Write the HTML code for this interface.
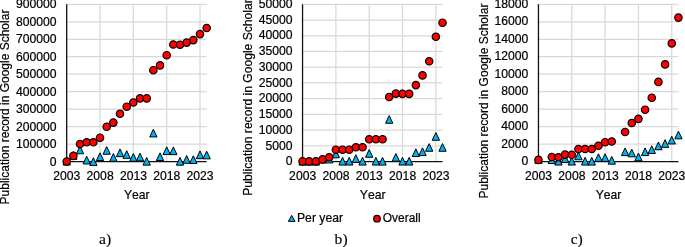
<!DOCTYPE html>
<html><head><meta charset="utf-8"><title>Publication record in Google Scholar</title>
<style>
html,body{margin:0;padding:0;background:#fff}
svg{display:block}
text{font-family:"Liberation Sans",Arial,sans-serif;font-size:12px;fill:#000;stroke:#000;stroke-width:.2px;font-kerning:none}
.cap{font-family:"Liberation Serif","Times New Roman",serif;font-size:15px;stroke-width:.12px}
.g{stroke:#d9d9d9;stroke-width:1.25;fill:none}
.ax{stroke:#111;stroke-width:1.3;fill:none}
.c{fill:#ff0000;stroke:#000;stroke-width:1.2}
.t{fill:#00b0f0;stroke:#000;stroke-width:1;stroke-linejoin:miter}
</style></head><body>
<svg width="685" height="247" viewBox="0 0 685 247">
<rect width="685" height="247" fill="#fff"/>
<g>
<path class="g" d="M66.70 144.12H206.67"/><path class="g" d="M66.70 126.64H206.67"/><path class="g" d="M66.70 109.17H206.67"/><path class="g" d="M66.70 91.69H206.67"/><path class="g" d="M66.70 74.21H206.67"/><path class="g" d="M66.70 56.73H206.67"/><path class="g" d="M66.70 39.26H206.67"/><path class="g" d="M66.70 21.78H206.67"/><path class="g" d="M66.70 4.30H206.67"/><path class="g" d="M100.03 4.30V161.60"/><path class="g" d="M133.35 4.30V161.60"/><path class="g" d="M166.68 4.30V161.60"/><path class="g" d="M200.00 4.30V161.60"/>
<path class="ax" d="M66.70 4.30V161.60"/><path class="ax" d="M66.70 161.60H206.67"/>
<path class="t" d="M66.70 157.35L70.35 165.05L63.05 165.05Z"/><path class="t" d="M73.37 151.65L77.02 159.35L69.72 159.35Z"/><path class="t" d="M80.03 146.05L83.68 153.75L76.38 153.75Z"/><path class="t" d="M86.70 156.25L90.35 163.95L83.05 163.95Z"/><path class="t" d="M93.36 157.75L97.01 165.45L89.71 165.45Z"/><path class="t" d="M100.03 152.85L103.68 160.55L96.38 160.55Z"/><path class="t" d="M106.69 146.55L110.34 154.25L103.04 154.25Z"/><path class="t" d="M113.36 153.55L117.01 161.25L109.70 161.25Z"/><path class="t" d="M120.02 148.95L123.67 156.65L116.37 156.65Z"/><path class="t" d="M126.69 150.65L130.34 158.35L123.03 158.35Z"/><path class="t" d="M133.35 153.55L137.00 161.25L129.70 161.25Z"/><path class="t" d="M140.01 153.15L143.66 160.85L136.36 160.85Z"/><path class="t" d="M146.68 157.45L150.33 165.15L143.03 165.15Z"/><path class="t" d="M153.34 129.25L157.00 136.95L149.69 136.95Z"/><path class="t" d="M160.01 152.85L163.66 160.55L156.36 160.55Z"/><path class="t" d="M166.68 146.85L170.33 154.55L163.03 154.55Z"/><path class="t" d="M173.34 146.95L176.99 154.65L169.69 154.65Z"/><path class="t" d="M180.00 157.45L183.66 165.15L176.35 165.15Z"/><path class="t" d="M186.67 155.55L190.32 163.25L183.02 163.25Z"/><path class="t" d="M193.34 155.75L196.99 163.45L189.69 163.45Z"/><path class="t" d="M200.00 150.95L203.65 158.65L196.35 158.65Z"/><path class="t" d="M206.67 151.15L210.32 158.85L203.02 158.85Z"/>
<circle class="c" cx="66.70" cy="161.50" r="3.70"/><circle class="c" cx="73.37" cy="155.90" r="3.70"/><circle class="c" cx="80.03" cy="144.00" r="3.70"/><circle class="c" cx="86.70" cy="142.30" r="3.70"/><circle class="c" cx="93.36" cy="142.30" r="3.70"/><circle class="c" cx="100.03" cy="137.70" r="3.70"/><circle class="c" cx="106.69" cy="126.70" r="3.70"/><circle class="c" cx="113.36" cy="122.60" r="3.70"/><circle class="c" cx="120.02" cy="113.80" r="3.70"/><circle class="c" cx="126.69" cy="106.70" r="3.70"/><circle class="c" cx="133.35" cy="102.50" r="3.70"/><circle class="c" cx="140.01" cy="98.40" r="3.70"/><circle class="c" cx="146.68" cy="98.40" r="3.70"/><circle class="c" cx="153.34" cy="70.20" r="3.70"/><circle class="c" cx="160.01" cy="65.40" r="3.70"/><circle class="c" cx="166.68" cy="55.20" r="3.70"/><circle class="c" cx="173.34" cy="44.50" r="3.70"/><circle class="c" cx="180.00" cy="44.70" r="3.70"/><circle class="c" cx="186.67" cy="42.60" r="3.70"/><circle class="c" cx="193.34" cy="40.10" r="3.70"/><circle class="c" cx="200.00" cy="34.10" r="3.70"/><circle class="c" cx="206.67" cy="28.00" r="3.70"/>
<text transform="translate(56.50 165.50) scale(1.015 1.000)" text-anchor="end">0</text><text transform="translate(56.50 148.02) scale(1.015 1.000)" text-anchor="end">100000</text><text transform="translate(56.50 130.54) scale(1.015 1.000)" text-anchor="end">200000</text><text transform="translate(56.50 113.07) scale(1.015 1.000)" text-anchor="end">300000</text><text transform="translate(56.50 95.59) scale(1.015 1.000)" text-anchor="end">400000</text><text transform="translate(56.50 78.11) scale(1.015 1.000)" text-anchor="end">500000</text><text transform="translate(56.50 60.63) scale(1.015 1.000)" text-anchor="end">600000</text><text transform="translate(56.50 43.16) scale(1.015 1.000)" text-anchor="end">700000</text><text transform="translate(56.50 25.68) scale(1.015 1.000)" text-anchor="end">800000</text><text transform="translate(56.50 8.20) scale(1.015 1.000)" text-anchor="end">900000</text>
<text transform="translate(66.80 179.80) scale(1.015 1.000)" text-anchor="middle">2003</text><text transform="translate(100.12 179.80) scale(1.015 1.000)" text-anchor="middle">2008</text><text transform="translate(133.45 179.80) scale(1.015 1.000)" text-anchor="middle">2013</text><text transform="translate(166.78 179.80) scale(1.015 1.000)" text-anchor="middle">2018</text><text transform="translate(200.10 179.80) scale(1.015 1.000)" text-anchor="middle">2023</text>
<text transform="translate(136.78 198.70) scale(1.015 1.000)" text-anchor="middle">Year</text>
<text transform="translate(9.40 204.40) rotate(-90) scale(1.0000 1)">Publication record in Google Scholar</text>
<text class="cap" transform="translate(99.10 244.0) scale(1.04 1)">a)</text>
</g>
<g>
<path class="g" d="M302.55 145.87H442.51"/><path class="g" d="M302.55 130.14H442.51"/><path class="g" d="M302.55 114.41H442.51"/><path class="g" d="M302.55 98.68H442.51"/><path class="g" d="M302.55 82.95H442.51"/><path class="g" d="M302.55 67.22H442.51"/><path class="g" d="M302.55 51.49H442.51"/><path class="g" d="M302.55 35.76H442.51"/><path class="g" d="M302.55 20.03H442.51"/><path class="g" d="M302.55 4.30H442.51"/><path class="g" d="M335.88 4.30V161.60"/><path class="g" d="M369.20 4.30V161.60"/><path class="g" d="M402.52 4.30V161.60"/><path class="g" d="M435.85 4.30V161.60"/>
<path class="ax" d="M302.55 4.30V161.60"/><path class="ax" d="M302.55 161.60H442.51"/>
<path class="t" d="M302.55 157.35L306.20 165.05L298.90 165.05Z"/><path class="t" d="M309.22 157.35L312.87 165.05L305.57 165.05Z"/><path class="t" d="M315.88 157.35L319.53 165.05L312.23 165.05Z"/><path class="t" d="M322.55 155.35L326.19 163.05L318.90 163.05Z"/><path class="t" d="M329.21 155.25L332.86 162.95L325.56 162.95Z"/><path class="t" d="M335.88 150.05L339.52 157.75L332.23 157.75Z"/><path class="t" d="M342.54 157.35L346.19 165.05L338.89 165.05Z"/><path class="t" d="M349.21 157.35L352.86 165.05L345.56 165.05Z"/><path class="t" d="M355.87 154.75L359.52 162.45L352.22 162.45Z"/><path class="t" d="M362.54 157.35L366.19 165.05L358.89 165.05Z"/><path class="t" d="M369.20 149.60L372.85 157.30L365.55 157.30Z"/><path class="t" d="M375.87 157.35L379.51 165.05L372.22 165.05Z"/><path class="t" d="M382.53 157.35L386.18 165.05L378.88 165.05Z"/><path class="t" d="M389.19 115.55L392.84 123.25L385.55 123.25Z"/><path class="t" d="M395.86 153.45L399.51 161.15L392.21 161.15Z"/><path class="t" d="M402.52 157.35L406.17 165.05L398.88 165.05Z"/><path class="t" d="M409.19 157.35L412.84 165.05L405.54 165.05Z"/><path class="t" d="M415.86 148.85L419.50 156.55L412.21 156.55Z"/><path class="t" d="M422.52 147.85L426.17 155.55L418.87 155.55Z"/><path class="t" d="M429.19 143.55L432.83 151.25L425.54 151.25Z"/><path class="t" d="M435.85 132.55L439.50 140.25L432.20 140.25Z"/><path class="t" d="M442.51 143.55L446.16 151.25L438.87 151.25Z"/>
<circle class="c" cx="302.55" cy="161.40" r="3.70"/><circle class="c" cx="309.22" cy="161.40" r="3.70"/><circle class="c" cx="315.88" cy="161.40" r="3.70"/><circle class="c" cx="322.55" cy="159.40" r="3.70"/><circle class="c" cx="329.21" cy="157.30" r="3.70"/><circle class="c" cx="335.88" cy="149.70" r="3.70"/><circle class="c" cx="342.54" cy="149.70" r="3.70"/><circle class="c" cx="349.21" cy="149.70" r="3.70"/><circle class="c" cx="355.87" cy="147.30" r="3.70"/><circle class="c" cx="362.54" cy="147.30" r="3.70"/><circle class="c" cx="369.20" cy="139.30" r="3.70"/><circle class="c" cx="375.87" cy="139.30" r="3.70"/><circle class="c" cx="382.53" cy="139.30" r="3.70"/><circle class="c" cx="389.19" cy="97.00" r="3.70"/><circle class="c" cx="395.86" cy="93.60" r="3.70"/><circle class="c" cx="402.52" cy="93.85" r="3.70"/><circle class="c" cx="409.19" cy="93.85" r="3.70"/><circle class="c" cx="415.86" cy="85.10" r="3.70"/><circle class="c" cx="422.52" cy="75.40" r="3.70"/><circle class="c" cx="429.19" cy="61.30" r="3.70"/><circle class="c" cx="435.85" cy="36.80" r="3.70"/><circle class="c" cx="442.51" cy="22.70" r="3.70"/>
<text transform="translate(292.60 165.30) scale(1.015 1.000)" text-anchor="end">0</text><text transform="translate(292.60 149.57) scale(1.015 1.000)" text-anchor="end">5000</text><text transform="translate(292.60 133.84) scale(1.015 1.000)" text-anchor="end">10000</text><text transform="translate(292.60 118.11) scale(1.015 1.000)" text-anchor="end">15000</text><text transform="translate(292.60 102.38) scale(1.015 1.000)" text-anchor="end">20000</text><text transform="translate(292.60 86.65) scale(1.015 1.000)" text-anchor="end">25000</text><text transform="translate(292.60 70.92) scale(1.015 1.000)" text-anchor="end">30000</text><text transform="translate(292.60 55.19) scale(1.015 1.000)" text-anchor="end">35000</text><text transform="translate(292.60 39.46) scale(1.015 1.000)" text-anchor="end">40000</text><text transform="translate(292.60 23.73) scale(1.015 1.000)" text-anchor="end">45000</text><text transform="translate(292.60 8.00) scale(1.015 1.000)" text-anchor="end">50000</text>
<text transform="translate(302.65 179.80) scale(1.015 1.000)" text-anchor="middle">2003</text><text transform="translate(335.98 179.80) scale(1.015 1.000)" text-anchor="middle">2008</text><text transform="translate(369.30 179.80) scale(1.015 1.000)" text-anchor="middle">2013</text><text transform="translate(402.62 179.80) scale(1.015 1.000)" text-anchor="middle">2018</text><text transform="translate(435.95 179.80) scale(1.015 1.000)" text-anchor="middle">2023</text>
<text transform="translate(372.63 198.70) scale(1.015 1.000)" text-anchor="middle">Year</text>
<text transform="translate(252.00 195.70) rotate(-90) scale(1.0090 1)">Publication record in Google Scholar</text>
<text class="cap" transform="translate(334.60 244.0) scale(1.04 1)">b)</text>
</g>
<g>
<path class="g" d="M538.45 144.12H678.42"/><path class="g" d="M538.45 126.64H678.42"/><path class="g" d="M538.45 109.17H678.42"/><path class="g" d="M538.45 91.69H678.42"/><path class="g" d="M538.45 74.21H678.42"/><path class="g" d="M538.45 56.73H678.42"/><path class="g" d="M538.45 39.26H678.42"/><path class="g" d="M538.45 21.78H678.42"/><path class="g" d="M538.45 4.30H678.42"/><path class="g" d="M571.78 4.30V161.60"/><path class="g" d="M605.10 4.30V161.60"/><path class="g" d="M638.43 4.30V161.60"/><path class="g" d="M671.75 4.30V161.60"/>
<path class="ax" d="M538.45 4.30V161.60"/><path class="ax" d="M538.45 161.60H678.42"/>
<path class="t" d="M538.45 155.65L542.10 163.35L534.80 163.35Z"/><path class="t" d="M551.78 155.85L555.43 163.55L548.13 163.55Z"/><path class="t" d="M558.45 157.35L562.10 165.05L554.80 165.05Z"/><path class="t" d="M565.11 154.75L568.76 162.45L561.46 162.45Z"/><path class="t" d="M571.78 157.35L575.43 165.05L568.13 165.05Z"/><path class="t" d="M578.44 152.05L582.09 159.75L574.79 159.75Z"/><path class="t" d="M585.11 157.35L588.75 165.05L581.46 165.05Z"/><path class="t" d="M591.77 157.35L595.42 165.05L588.12 165.05Z"/><path class="t" d="M598.44 153.75L602.09 161.45L594.79 161.45Z"/><path class="t" d="M605.10 153.75L608.75 161.45L601.45 161.45Z"/><path class="t" d="M611.77 156.45L615.42 164.15L608.12 164.15Z"/><path class="t" d="M625.10 147.90L628.75 155.60L621.45 155.60Z"/><path class="t" d="M631.76 149.15L635.41 156.85L628.11 156.85Z"/><path class="t" d="M638.43 153.05L642.08 160.75L634.78 160.75Z"/><path class="t" d="M645.09 147.90L648.74 155.60L641.44 155.60Z"/><path class="t" d="M651.76 145.75L655.41 153.45L648.11 153.45Z"/><path class="t" d="M658.42 142.05L662.07 149.75L654.77 149.75Z"/><path class="t" d="M665.09 139.65L668.74 147.35L661.44 147.35Z"/><path class="t" d="M671.75 136.25L675.40 143.95L668.10 143.95Z"/><path class="t" d="M678.42 131.15L682.07 138.85L674.77 138.85Z"/>
<circle class="c" cx="538.45" cy="159.90" r="3.70"/><circle class="c" cx="551.78" cy="157.00" r="3.70"/><circle class="c" cx="558.45" cy="157.30" r="3.70"/><circle class="c" cx="565.11" cy="154.60" r="3.70"/><circle class="c" cx="571.78" cy="154.80" r="3.70"/><circle class="c" cx="578.44" cy="149.00" r="3.70"/><circle class="c" cx="585.11" cy="149.00" r="3.70"/><circle class="c" cx="591.77" cy="149.00" r="3.70"/><circle class="c" cx="598.44" cy="145.80" r="3.70"/><circle class="c" cx="605.10" cy="142.20" r="3.70"/><circle class="c" cx="611.77" cy="141.50" r="3.70"/><circle class="c" cx="625.10" cy="132.00" r="3.70"/><circle class="c" cx="631.76" cy="123.00" r="3.70"/><circle class="c" cx="638.43" cy="118.85" r="3.70"/><circle class="c" cx="645.09" cy="109.70" r="3.70"/><circle class="c" cx="651.76" cy="97.70" r="3.70"/><circle class="c" cx="658.42" cy="81.90" r="3.70"/><circle class="c" cx="665.09" cy="64.40" r="3.70"/><circle class="c" cx="671.75" cy="43.40" r="3.70"/><circle class="c" cx="678.42" cy="17.60" r="3.70"/>
<text transform="translate(528.30 165.30) scale(1.015 1.000)" text-anchor="end">0</text><text transform="translate(528.30 147.82) scale(1.015 1.000)" text-anchor="end">2000</text><text transform="translate(528.30 130.34) scale(1.015 1.000)" text-anchor="end">4000</text><text transform="translate(528.30 112.87) scale(1.015 1.000)" text-anchor="end">6000</text><text transform="translate(528.30 95.39) scale(1.015 1.000)" text-anchor="end">8000</text><text transform="translate(528.30 77.91) scale(1.015 1.000)" text-anchor="end">10000</text><text transform="translate(528.30 60.43) scale(1.015 1.000)" text-anchor="end">12000</text><text transform="translate(528.30 42.96) scale(1.015 1.000)" text-anchor="end">14000</text><text transform="translate(528.30 25.48) scale(1.015 1.000)" text-anchor="end">16000</text><text transform="translate(528.30 8.00) scale(1.015 1.000)" text-anchor="end">18000</text>
<text transform="translate(538.55 179.80) scale(1.015 1.000)" text-anchor="middle">2003</text><text transform="translate(571.88 179.80) scale(1.015 1.000)" text-anchor="middle">2008</text><text transform="translate(605.20 179.80) scale(1.015 1.000)" text-anchor="middle">2013</text><text transform="translate(638.53 179.80) scale(1.015 1.000)" text-anchor="middle">2018</text><text transform="translate(671.85 179.80) scale(1.015 1.000)" text-anchor="middle">2023</text>
<text transform="translate(608.53 198.70) scale(1.015 1.000)" text-anchor="middle">Year</text>
<text transform="translate(487.70 198.50) rotate(-90) scale(1.0010 1)">Publication record in Google Scholar</text>
<text class="cap" transform="translate(570.70 244.0) scale(1.04 1)">c)</text>
</g>
<g><path class="t" d="M291.70 215.40L295.05 221.40L288.35 221.40Z"/><text transform="translate(297.00 222.30) scale(1.015 1.000)">Per year</text><circle class="c" cx="377.0" cy="218.7" r="3.3"/><text transform="translate(382.80 222.40) scale(0.995 1.000)">Overall</text></g>
</svg>
</body></html>
